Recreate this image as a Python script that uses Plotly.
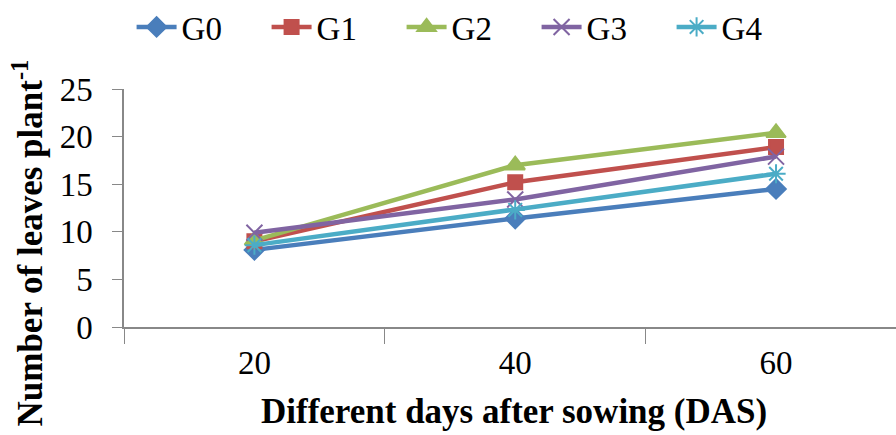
import plotly.graph_objects as go

categories = ["20", "40", "60"]
series_names = ["G0", "G1", "G2", "G3", "G4"]
G0 = [8.1, 11.4, 14.5]
G1 = [9.0, 15.2, 18.9]
G2 = [9.1, 17.0, 20.4]
G3 = [9.9, 13.4, 17.9]
G4 = [8.6, 12.3, 16.1]
values = [G0, G1, G2, G3, G4]
colors = ["#4a7ebb", "#c0504d", "#9bbb59", "#8064a2", "#4bacc6"]
symbols = ["diamond", "square", "triangle-up", "x-thin-open", "asterisk-open"]
sizes = [15, 14, 17, 16, 16]

fig = go.Figure()
for name, vals, c, s, sz in zip(series_names, values, colors, symbols, sizes):
    fig.add_trace(go.Scatter(
        x=categories, y=vals, name=name, mode="lines+markers",
        line=dict(color=c, width=4.5),
        marker=dict(symbol=s, size=sz, color=c, line=dict(color=c, width=2)),
    ))

font_family = "Liberation Serif, Times New Roman, serif"
fig.update_layout(
    width=896, height=435,
    margin=dict(l=124, r=0, t=89, b=108, autoexpand=False),
    paper_bgcolor="white", plot_bgcolor="white",
    font=dict(family=font_family, size=33, color="black"),
    showlegend=True,
    legend=dict(orientation="h", x=0.447, xanchor="center",
                y=(327 + 1) / 238, yanchor="top", yref="paper",
                entrywidth=80, entrywidthmode="pixels",
                font=dict(size=33), itemwidth=40, tracegroupgap=0),
    xaxis=dict(type="category", range=[-0.5, 2.46], tickson="boundaries",
               ticks="outside", ticklen=15, tickcolor="#888", showline=True,
               linecolor="#888", linewidth=1.5, showgrid=False, zeroline=False,
               tickfont=dict(size=33), ticklabelstandoff=6),
    yaxis=dict(range=[0, 25], tickvals=[0, 5, 10, 15, 20, 25], ticks="outside",
               ticklen=10, tickcolor="#888", showline=True, linecolor="#888",
               linewidth=1.5, showgrid=False, zeroline=False,
               tickfont=dict(size=33), ticklabelstandoff=13),
    annotations=[
        dict(text="<b>Number of leaves plant<sup>-1</sup></b>",
             textangle=-90, xref="paper", yref="paper",
             x=(28 - 124) / 772, y=(327 - 58) / 238,
             xanchor="center", yanchor="top", showarrow=False,
             font=dict(size=35)),
        dict(text="<b>Different days after sowing (DAS)</b>",
             xref="paper", yref="paper",
             x=(514 - 124) / 772, y=(327 - 411) / 238,
             xanchor="center", yanchor="middle", showarrow=False,
             font=dict(size=35)),
    ],
)

fig.write_html("out.html")
